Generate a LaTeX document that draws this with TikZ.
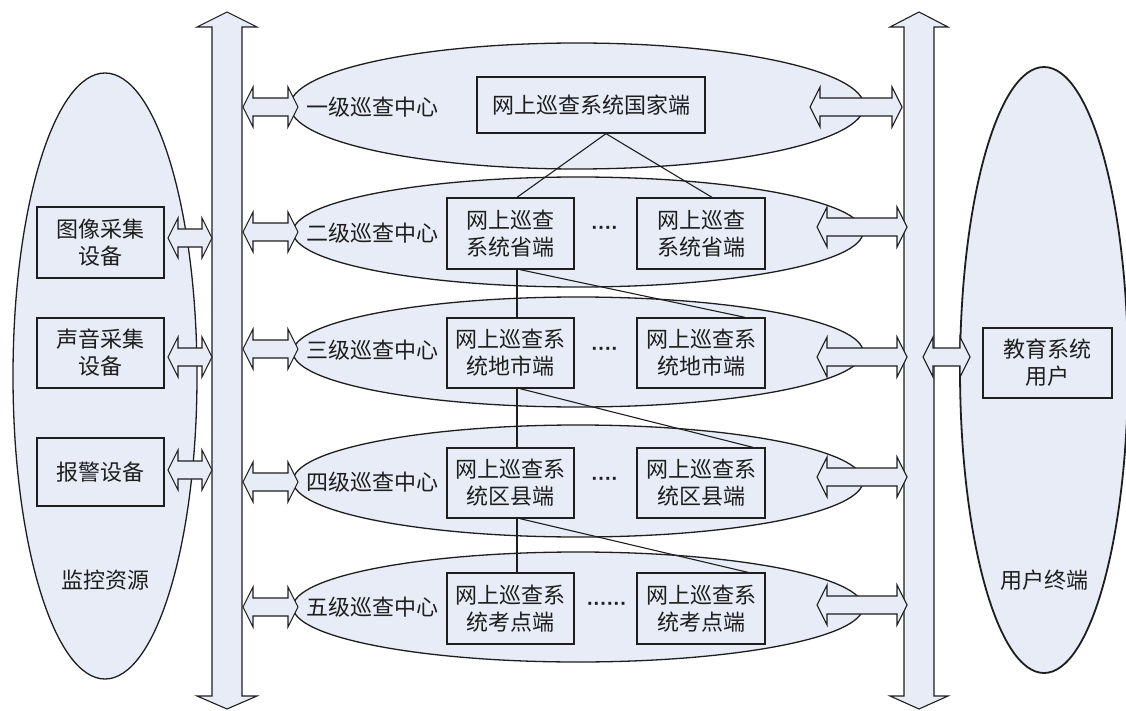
\documentclass[tikz,border=0pt]{standalone}
\usepackage{fontspec}
\setmainfont{Noto Sans CJK SC}
\newfontfamily\dotfont{Liberation Sans}
\usetikzlibrary{shapes.geometric,calc}
\definecolor{fillc}{RGB}{231,236,246}
\definecolor{linec}{RGB}{30,30,30}
\newcommand\HBArrow[3]{% xa, y, xb
  \draw[blk] (#1,#2) -- (#1+10,#2-20) -- (#1+10,#2-9) -- (#3-10,#2-9) -- (#3-10,#2-20)
    -- (#3,#2) -- (#3-10,#2+20) -- (#3-10,#2+9) -- (#1+10,#2+9) -- (#1+10,#2+20) -- cycle;}
\newcommand\VBArrow[3]{% cx, shaft half, head half
  \draw[blk] (#1,12) -- (#1+#3,27) -- (#1+#2,27) -- (#1+#2,696) -- (#1+#3,696) -- (#1,709)
    -- (#1-#3,696) -- (#1-#2,696) -- (#1-#2,27) -- (#1-#3,27) -- cycle;}
\begin{document}
\begin{tikzpicture}[x=1pt,y=-1pt,
  every node/.style={font=\fontsize{22}{27}\selectfont, text=linec},
  oval/.style={ellipse, draw=linec, fill=fillc, line width=1.3pt, inner sep=0pt},
  box/.style={draw=linec, fill=fillc, line width=1.3pt, align=center, inner sep=0pt},
  blk/.style={draw=linec, fill=fillc, line width=1.1pt, line join=miter},
  conn/.style={draw=linec, line width=1.1pt},
  dots/.style={font=\dotfont\bfseries\fontsize{20}{24}\selectfont}]
\useasboundingbox (0,0) rectangle (1126,711);
% big side ellipses
\node[oval, minimum width=184pt, minimum height=606pt] (mon) at (105,376) {};
\node[oval, line width=1.8pt, minimum width=168pt, minimum height=606pt] (usr) at (1044,370) {};
% tier ellipses
\node[oval, minimum width=574pt, minimum height=126pt] (t1) at (577,106) {};
\node[oval, minimum width=570pt, minimum height=110pt] (t2) at (578,232) {};
\node[oval, minimum width=570pt, minimum height=110pt] (t3) at (578,352) {};
\node[oval, minimum width=570pt, minimum height=112pt] (t4) at (578,481) {};
\node[oval, minimum width=570pt, minimum height=110pt] (t5) at (578,607) {};
% vertical bus arrows
\VBArrow{227}{15}{30}
\VBArrow{919}{15}{29}
% tier arrows left
\HBArrow{243}{107}{298}
\HBArrow{243}{232}{298}
\HBArrow{243}{349}{298}
\HBArrow{243}{482}{298}
\HBArrow{243}{607}{298}
% tier arrows right
\HBArrow{810}{107}{902}
\HBArrow{817}{227}{907}
\HBArrow{817}{357}{907}
\HBArrow{817}{477}{907}
\HBArrow{817}{605}{907}
% device arrows
\HBArrow{168}{238}{212}
\HBArrow{168}{357}{212}
\HBArrow{168}{470}{212}
% user arrow
\HBArrow{923}{357}{970}
% tier labels
\node (l1) at (372,107) {一级巡查中心};
\node (l2) at (372,233) {二级巡查中心};
\node (l3) at (372,350) {三级巡查中心};
\node (l4) at (372,482) {四级巡查中心};
\node (l5) at (372,607) {五级巡查中心};
% boxes
\node[box, minimum width=228pt, minimum height=56pt] (n0) at (591,105) {网上巡查系统国家端};
\node[box, minimum width=127pt, minimum height=71pt] (p1) at (510.5,233.5) {网上巡查\\系统省端};
\node[box, minimum width=128pt, minimum height=71pt] (p2) at (701,233.5) {网上巡查\\系统省端};
\node[box, minimum width=127pt, minimum height=70pt] (c1) at (510.5,353) {网上巡查系\\统地市端};
\node[box, minimum width=128pt, minimum height=70pt] (c2) at (701,353) {网上巡查系\\统地市端};
\node[box, minimum width=127pt, minimum height=70pt] (d1) at (510.5,483) {网上巡查系\\统区县端};
\node[box, minimum width=128pt, minimum height=70pt] (d2) at (701,483) {网上巡查系\\统区县端};
\node[box, minimum width=127pt, minimum height=71pt] (e1) at (510.5,608.5) {网上巡查系\\统考点端};
\node[box, minimum width=128pt, minimum height=71pt] (e2) at (701,608.5) {网上巡查系\\统考点端};
% dots
\node[dots] (o2) at (605,230) {····};
\node[dots] (o3) at (605,351) {····};
\node[dots] (o4) at (605,481) {····};
\node[dots] (o5) at (607,606) {······};
% left devices
\node[box, minimum width=127pt, minimum height=71pt] (g1) at (100.5,242.5) {图像采集\\设备};
\node[box, minimum width=127pt, minimum height=70pt] (g2) at (100.5,353) {声音采集\\设备};
\node[box, minimum width=127pt, minimum height=68pt] (g3) at (100.5,472) {报警设备};
\node (monl) at (105,580) {监控资源};
% user side
\node[box, minimum width=129pt, minimum height=70pt] (ub) at (1047.5,363) {教育系统\\用户};
\node (usrl) at (1044,580) {用户终端};
% connectors
\coordinate (n0s) at ($(n0.south)+(15,0)$);
\draw[conn] (n0s) -- ($(p1.north)+(6.5,0)$);
\draw[conn] (n0s) -- ($(p2.north)+(11,0)$);
\draw[conn] ($(p1.south)+(6.5,0)$) -- ($(c1.north)+(6.5,0)$);
\draw[conn] ($(p1.south)+(9.5,0)$) -- ($(c2.north)+(44,0)$);
\draw[conn] ($(c1.south)+(6.5,0)$) -- ($(d1.north)+(6.5,0)$);
\draw[conn] ($(c1.south)+(9.5,0)$) -- ($(d2.north)+(52,0)$);
\draw[conn] ($(d1.south)+(6.5,0)$) -- ($(e1.north)+(6.5,0)$);
\draw[conn] ($(d1.south)+(9.5,0)$) -- ($(e2.north)+(47,0)$);
\end{tikzpicture}
\end{document}
